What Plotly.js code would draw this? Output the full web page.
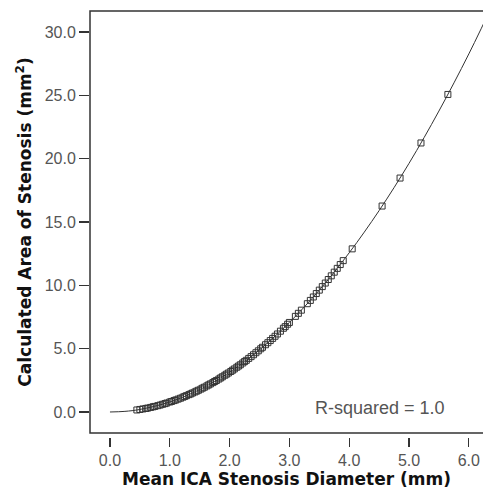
<!DOCTYPE html>
<html>
<head>
<meta charset="utf-8">
<script src="https://cdn.plot.ly/plotly-3.0.1.min.js"></script>
<style>html,body{margin:0;padding:0;background:#fff;}#chart{width:483px;height:493px;}</style>
</head>
<body>
<div id="chart"></div>
<script>
// Observed stenoses: mean ICA diameter (mm) and calculated area (mm^2)
var diameter = [0.45, 0.5, 0.55, 0.6, 0.63, 0.68, 0.72, 0.75, 0.8, 0.84, 0.88, 0.92, 0.95, 1.0, 1.03, 1.07, 1.1, 1.14, 1.18, 1.22, 1.25, 1.28, 1.32, 1.35, 1.38, 1.42, 1.45, 1.48, 1.52, 1.55, 1.58, 1.62, 1.65, 1.68, 1.72, 1.75, 1.78, 1.82, 1.85, 1.88, 1.92, 1.95, 1.98, 2.02, 2.05, 2.08, 2.12, 2.15, 2.18, 2.22, 2.25, 2.28, 2.32, 2.36, 2.4, 2.44, 2.48, 2.52, 2.55, 2.6, 2.64, 2.68, 2.72, 2.76, 2.8, 2.85, 2.9, 2.93, 2.97, 3.0, 3.1, 3.15, 3.2, 3.3, 3.35, 3.4, 3.45, 3.5, 3.55, 3.6, 3.65, 3.7, 3.75, 3.8, 3.85, 3.9, 4.05, 4.55, 4.85, 5.2, 5.65];
var area = [0.16, 0.20, 0.24, 0.28, 0.31, 0.36, 0.41, 0.44, 0.50, 0.55, 0.61, 0.66, 0.71, 0.79, 0.83, 0.90, 0.95, 1.02, 1.09, 1.17, 1.23, 1.29, 1.37, 1.43, 1.50, 1.58, 1.65, 1.72, 1.81, 1.89, 1.96, 2.06, 2.14, 2.22, 2.32, 2.41, 2.49, 2.60, 2.69, 2.78, 2.90, 2.99, 3.08, 3.20, 3.30, 3.40, 3.53, 3.63, 3.73, 3.87, 3.98, 4.08, 4.23, 4.37, 4.52, 4.68, 4.83, 4.99, 5.11, 5.31, 5.47, 5.64, 5.81, 5.98, 6.16, 6.38, 6.61, 6.74, 6.93, 7.07, 7.55, 7.79, 8.04, 8.55, 8.81, 9.08, 9.35, 9.62, 9.90, 10.18, 10.46, 10.75, 11.04, 11.34, 11.64, 11.95, 12.88, 16.26, 18.47, 21.24, 25.07];
// Fitted curve
var fitDiameter = [0.0, 0.25, 0.5, 1.0, 1.5, 2.0, 2.5, 3.0, 3.5, 4.0, 4.5, 5.0, 5.5, 6.0, 6.5];
var fitArea = [0.0, 0.05, 0.20, 0.79, 1.77, 3.14, 4.91, 7.07, 9.62, 12.57, 15.90, 19.63, 23.76, 28.27, 33.18];
// Axis ticks
var xTicks = [0, 1, 2, 3, 4, 5, 6];
var xTickText = ["0.0", "1.0", "2.0", "3.0", "4.0", "5.0", "6.0"];
var yTicks = [0, 5, 10, 15, 20, 25, 30];
var yTickText = ["0.0", "5.0", "10.0", "15.0", "20.0", "25.0", "30.0"];

var ink = '#333333';
var fam = 'Arial, "Liberation Sans", sans-serif';
var titleFam = '"DejaVu Sans", Arial, sans-serif';
var boxBottom = 0.0094;

var traces = [
  {x: fitDiameter, y: fitArea, type: 'scatter', mode: 'lines',
   line: {color: ink, width: 1, shape: 'spline'}, hoverinfo: 'skip', showlegend: false},
  {x: diameter, y: area, type: 'scatter', mode: 'markers',
   marker: {symbol: 'square-open', size: 6, color: ink, line: {width: 1, color: ink}}, showlegend: false}
];

var layout = {
  width: 483, height: 493,
  margin: {l: 90, r: 0, t: 11, b: 56},
  paper_bgcolor: '#fff', plot_bgcolor: '#fff',
  font: {family: fam, color: '#444', size: 16},
  xaxis: {
    range: [-0.334, 6.237], anchor: 'free', position: 0,
    tickvals: xTicks, ticktext: xTickText,
    ticks: 'outside', ticklen: 9, tickwidth: 1.2, tickcolor: ink,
    showgrid: false, zeroline: false, showline: false,
    tickfont: {size: 16, color: '#555', family: fam},
    title: {text: '<b>Mean ICA Stenosis Diameter (mm)</b>', font: {size: 17, color: '#111', family: titleFam}, standoff: 1}
  },
  yaxis: {
    range: [-1.658, 31.658], domain: [boxBottom, 1],
    tickvals: yTicks, ticktext: yTickText,
    ticks: 'outside', ticklen: 10, tickwidth: 1.2, tickcolor: ink,
    showgrid: false, zeroline: false, showline: false,
    tickfont: {size: 16, color: '#555', family: fam},
    title: {text: '<b>Calculated Area of Stenosis (mm<sup>2</sup>)</b>', font: {size: 17, color: '#111', family: titleFam}, standoff: 8}
  },
  shapes: [
    {type: 'rect', xref: 'paper', yref: 'paper', x0: 0, x1: 1.2, y0: boxBottom, y1: 1,
     line: {color: ink, width: 1.5}, fillcolor: 'rgba(0,0,0,0)', layer: 'above'}
  ],
  annotations: [
    {text: 'R-squared = 1.0', xref: 'x', yref: 'y', x: 5.64, y: 0.3, xanchor: 'right', yanchor: 'middle',
     showarrow: false, font: {size: 18, color: '#555', family: fam}}
  ]
};

Plotly.newPlot('chart', traces, layout, {displayModeBar: false, staticPlot: true});
</script>
</body>
</html>
